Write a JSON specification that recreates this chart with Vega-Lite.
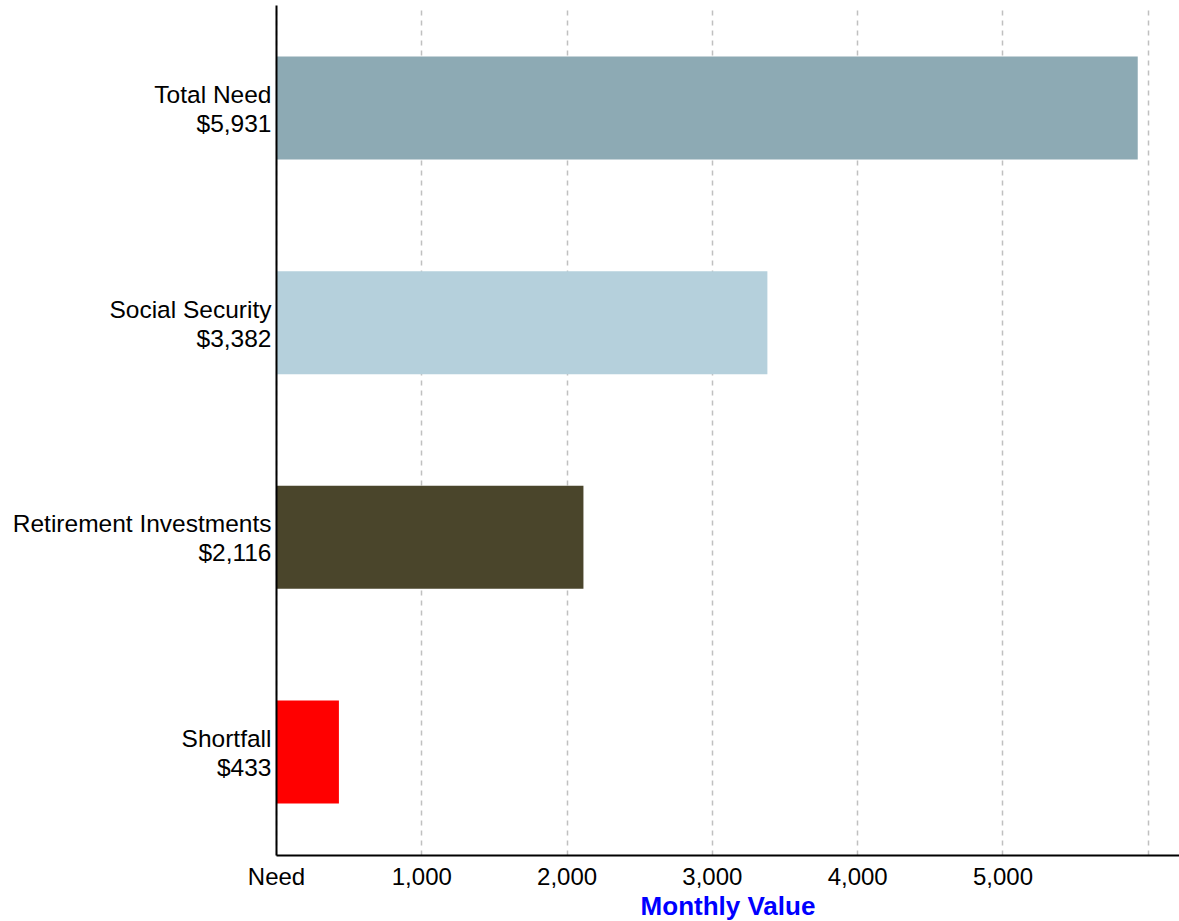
{
  "$schema": "https://vega.github.io/schema/vega-lite/v6.json",
  "width": 903,
  "height": 850,
  "autosize": "none",
  "padding": {"left": 276, "top": 5, "right": 0, "bottom": 66},
  "background": "white",
  "config": {"view": {"stroke": null}, "font": "Liberation Sans"},
  "data": {
    "values": [
      {"name": "Total Need", "value": 5931, "order": 1},
      {"name": "Social Security", "value": 3382, "order": 2},
      {"name": "Retirement Investments", "value": 2116, "order": 3},
      {"name": "Shortfall", "value": 433, "order": 4}
    ]
  },
  "transform": [
    {"calculate": "datum.name + '|$' + format(datum.value, ',')", "as": "label"}
  ],
  "mark": {"type": "bar"},
  "encoding": {
    "y": {
      "field": "label",
      "type": "nominal",
      "sort": {"field": "order"},
      "scale": {"paddingInner": 0.52, "paddingOuter": 0.24},
      "axis": {
        "title": null,
        "labelExpr": "split(datum.value, '|')",
        "ticks": false,
        "labelPadding": 5,
        "labelFontSize": 24.5,
        "labelLineHeight": 29,
        "labelOffset": -12,
        "labelColor": "black",
        "labelLimit": 400,
        "domainColor": "black",
        "domainWidth": 2,
        "grid": false,
        "zindex": 1
      }
    },
    "x": {
      "field": "value",
      "type": "quantitative",
      "scale": {"domain": [0, 6215], "nice": false},
      "axis": {
        "values": [0, 1000, 2000, 3000, 4000, 5000, 6000],
        "labelExpr": "datum.value == 0 ? 'Need' : datum.value >= 6000 ? '' : format(datum.value, ',')",
        "ticks": false,
        "grid": true,
        "gridDash": [5, 5],
        "gridColor": "#c0c0c0",
        "gridWidth": 1.5,
        "domainColor": "black",
        "domainWidth": 2,
        "labelFontSize": 24,
        "labelColor": "black",
        "labelPadding": 10,
        "labelFlush": false,
        "labelOverlap": false,
        "title": "Monthly Value",
        "titleColor": "#0000ff",
        "titleFontSize": 26,
        "titleFontWeight": "bold",
        "titlePadding": 4
      }
    },
    "color": {
      "field": "name",
      "type": "nominal",
      "scale": {
        "domain": ["Total Need", "Social Security", "Retirement Investments", "Shortfall"],
        "range": ["#8DAAB4", "#B5D0DC", "#4A452B", "#FF0000"]
      },
      "legend": null
    }
  }
}
